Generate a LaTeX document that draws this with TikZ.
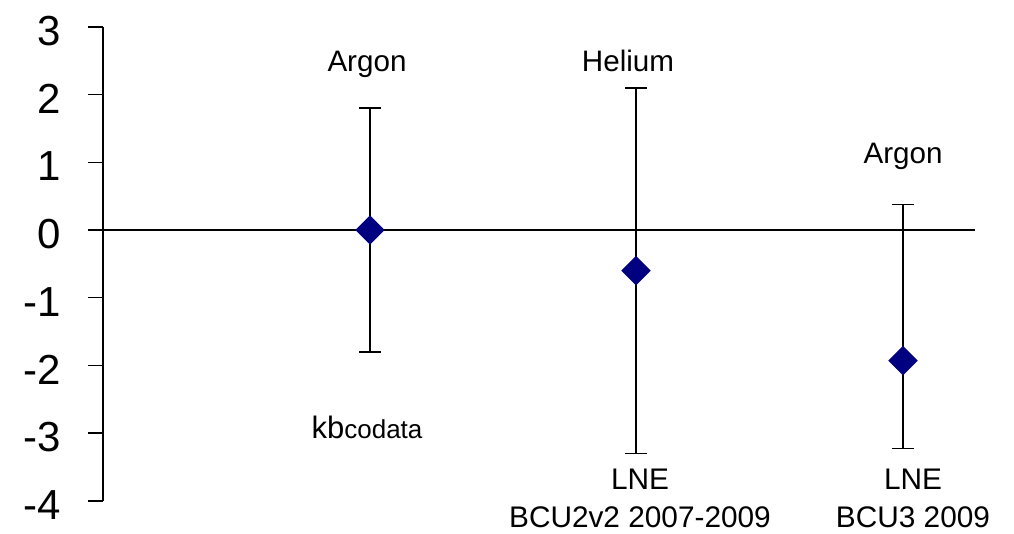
\documentclass[tikz,border=0pt]{standalone}
\usepackage{fontspec}
\setmainfont{Liberation Sans}
\usetikzlibrary{shapes.geometric}
\definecolor{marker}{RGB}{0,0,128}
\begin{document}
\begin{tikzpicture}[x=0.5pt,y=33.85pt,line width=0.75pt,
        datapt/.style={diamond,fill=marker,inner sep=0pt,minimum size=15pt},
        gas/.style={font=\fontsize{14.8}{17}\selectfont},
        source/.style={font=\fontsize{14.9}{19}\selectfont,align=center}]
    \useasboundingbox (-103,3.397) rectangle (911,-4.49);
    % axis and ticks
    \draw (0,3) -- (0,-4);
    \foreach \k in {-4,...,3} {
        \draw (-15,\k) -- (0,\k);
        \node[anchor=east,inner sep=0pt,yshift=-2pt,font=\fontsize{21}{21}\selectfont] (t\k) at (-41,\k) {\k};
    }
    \coordinate (zl) at (-15,0);
    \coordinate (zr) at (872,0);
    \draw (zl) -- (zr);
    % error bars
    \coordinate (arAtop) at (267,1.8);
    \coordinate (arAbot) at (267,-1.8);
    \coordinate (hetop) at (533,2.1);
    \coordinate (hebot) at (533,-3.3);
    \coordinate (arBtop) at (800,0.38);
    \coordinate (arBbot) at (800,-3.23);
    \draw (arAtop) -- (arAbot);
    \draw (hetop) -- (hebot);
    \draw (arBtop) -- (arBbot);
    \foreach \c in {arAtop,arAbot,hetop,hebot,arBtop,arBbot}
        \draw ([xshift=-5.5pt]\c) -- ([xshift=5.5pt]\c);
    % data points
    \node[datapt] (arA) at (267,0) {};
    \node[datapt] (he) at (533,-0.6) {};
    \node[datapt] (arB) at (800,-1.93) {};
    % labels
    \node[gas] (arAlab) at (264,2.45) {Argon};
    \node[gas] (helab) at (525,2.49) {Helium};
    \node[gas] (arBlab) at (800,1.09) {Argon};
    \node (kb) at (264,-2.92) {{\fontsize{15.5}{17}\selectfont kb}{\fontsize{13}{15}\selectfont codata}};
    \node[source] (lneA) at (537,-3.97) {LNE\\BCU2v2 2007-2009};
    \node[source] (lneB) at (810,-3.97) {LNE\\BCU3 2009};
\end{tikzpicture}
\end{document}
